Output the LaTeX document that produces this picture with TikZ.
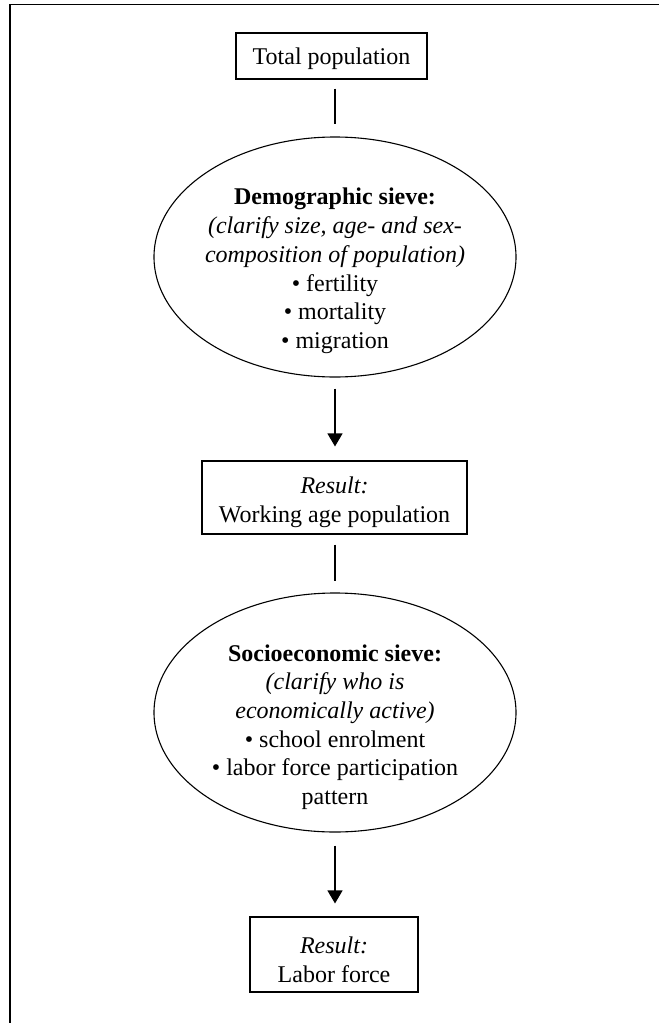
\documentclass[tikz,border=0pt]{standalone}
\usepackage{fontspec}
\setmainfont{Liberation Serif}
\usetikzlibrary{shapes.geometric,arrows.meta}
\tikzset{
  txt/.style={font=\fontsize{24}{28.7}\selectfont, align=center, inner sep=0pt},
  rbox/.style={draw, line width=1.1pt, rectangle, inner sep=0pt},
  sieve/.style={draw, line width=1.1pt, ellipse, inner sep=0pt, minimum width=362pt, minimum height=240pt},
  plain/.style={line width=1.1pt},
  arr/.style={line width=1.1pt, -{Triangle[width=15pt,length=13pt]}}
}
\begin{document}
\begin{tikzpicture}[x=1pt,y=-1pt]
\useasboundingbox (0,0) rectangle (659,1023);
% outer frame (cut by the page on right and bottom)
\draw[line width=1.5pt] (10,1023) -- (10,4.7) -- (659,4.7);

\node[rbox, minimum width=191pt, minimum height=46pt] (tp) at (331.5,56) {};
\node[txt] (tpt) at (331.5,59) {Total population};

\node[sieve] (e1) at (335,257) {};
\node[txt] (t1) at (335,271) {\textbf{Demographic sieve:}\\
  \textit{(clarify size, age- and sex-}\\
  \textit{composition of population)}\\
  \textbullet\ fertility\\
  \textbullet\ mortality\\
  \textbullet\ migration};

\node[rbox, minimum width=265pt, minimum height=73pt] (r1) at (334.5,497.5) {};
\node[txt] (r1t) at (334.5,502.5) {\textit{Result:}\\ Working age population};

\node[sieve, minimum height=239pt] (e2) at (335,712.5) {};
\node[txt] (t2) at (335,727) {\textbf{Socioeconomic sieve:}\\
  \textit{(clarify who is}\\
  \textit{economically active)}\\
  \textbullet\ school enrolment\\
  \textbullet\ labor force participation\\
  pattern};

\node[rbox, minimum width=168pt, minimum height=75pt] (r2) at (334,954.5) {};
\node[txt] (r2t) at (334,959.5) {\textit{Result:}\\ Labor force};

\draw[plain, shorten <=9pt, shorten >=12pt] (tp.south -| e1.north) -- (e1.north);
\draw[arr, shorten <=11pt, shorten >=14pt] (e1.south) -- (e1.south |- r1.north);
\draw[plain, shorten <=10pt, shorten >=11pt] (r1.south -| e2.north) -- (e2.north);
\draw[arr, shorten <=13pt, shorten >=13pt] (e2.south) -- (e2.south |- r2.north);
\end{tikzpicture}
\end{document}
